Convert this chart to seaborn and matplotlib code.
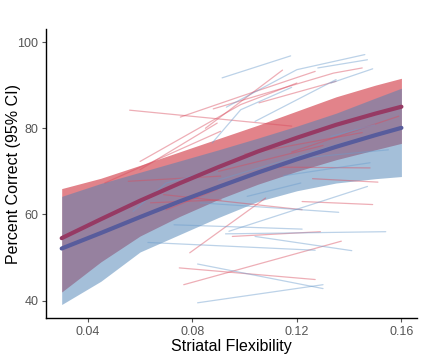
import matplotlib
matplotlib.use("Agg")
import matplotlib.pyplot as plt
import seaborn as sns
import pandas as pd

# ---- data ----
fit_x = [0.03, 0.045, 0.06, 0.075, 0.09, 0.105, 0.12, 0.135, 0.15, 0.16]
red_fit = [54.5, 58.9, 63.2, 67.2, 71.0, 74.6, 77.8, 80.8, 83.4, 85.0]
red_lo = [42.0, 49.0, 55.0, 59.5, 63.5, 67.0, 70.0, 72.7, 75.0, 76.5]
red_hi = [66.0, 68.4, 71.4, 74.5, 77.6, 80.7, 84.0, 87.3, 90.0, 91.6]
blue_fit = [52.1, 55.7, 59.4, 63.0, 66.4, 69.7, 72.8, 75.7, 78.4, 80.1]
blue_lo = [39.1, 44.5, 51.3, 55.3, 59.3, 63.0, 65.5, 67.3, 68.3, 68.8]
blue_hi = [64.2, 67.2, 69.8, 72.4, 75.0, 77.7, 80.5, 83.5, 87.0, 89.3]

red_lines_x = [
    [0.056, 0.118], [0.0754, 0.0985, 0.127], [0.085, 0.1145],
    [0.088, 0.134, 0.145], [0.1055, 0.135], [0.06, 0.0985, 0.12],
    [0.06, 0.0895], [0.0465, 0.0908], [0.0555, 0.0908], [0.064, 0.091],
    [0.070, 0.0895], [0.069, 0.122], [0.126, 0.151], [0.11, 0.148],
    [0.118, 0.159], [0.079, 0.108], [0.122, 0.149], [0.0953, 0.129],
    [0.0767, 0.137], [0.075, 0.127], [0.10, 0.145], [0.09, 0.13],
]
red_lines_y = [
    [84.2, 80.5], [82.6, 87.4, 93.2], [80.0, 93.5],
    [84.5, 92.8, 94.0], [85.9, 90.9], [72.3, 85.5, 90.5],
    [70.4, 81.2], [67.3, 79.3], [67.7, 68.9], [62.7, 63.4],
    [61.1, 65.8], [64.6, 61.1], [68.3, 67.5], [71.0, 70.8],
    [74.5, 82.8], [51.1, 63.8], [63.0, 62.3], [54.9, 56.0],
    [43.7, 53.8], [47.6, 44.9], [74.0, 79.0], [70.0, 76.0],
]
blue_lines_x = [
    [0.0914, 0.1176], [0.093, 0.120, 0.146], [0.128, 0.147],
    [0.133, 0.149], [0.104, 0.135], [0.0876, 0.0985, 0.118],
    [0.0573, 0.070, 0.09], [0.101, 0.1215], [0.115, 0.148],
    [0.094, 0.147], [0.083, 0.136], [0.073, 0.122], [0.0927, 0.154],
    [0.104, 0.141], [0.063, 0.127], [0.082, 0.130], [0.082, 0.130],
    [0.09, 0.14], [0.133, 0.1497], [0.12, 0.155],
]
blue_lines_y = [
    [91.7, 96.8], [84.9, 93.6, 97.1], [94.0, 95.9],
    [90.5, 93.8], [81.6, 91.3], [76.6, 84.3, 89.5],
    [60.7, 67.3, 70.5], [64.2, 67.3], [69.0, 72.0],
    [56.1, 66.5], [62.7, 60.5], [57.6, 56.6], [55.5, 56.0],
    [54.9, 51.6], [53.5, 51.7], [48.5, 42.8], [39.5, 43.7],
    [68.0, 77.0], [78.1, 80.8], [73.0, 75.0],
]

x_ticks = [0.04, 0.08, 0.12, 0.16]
x_ticklabels = ["0.04", "0.08", "0.12", "0.16"]
y_ticks = [40, 60, 80, 100]

# ---- build tidy frames ----
rows = []
for grp, xs_all, ys_all in (("red", red_lines_x, red_lines_y),
                            ("blue", blue_lines_x, blue_lines_y)):
    for i, (xs, ys) in enumerate(zip(xs_all, ys_all)):
        for xv, yv in zip(xs, ys):
            rows.append({"group": grp, "subj": f"{grp}{i}", "x": xv, "y": yv})
subj_df = pd.DataFrame(rows)

fit_df = pd.concat([
    pd.DataFrame({"group": "red", "x": fit_x, "y": red_fit}),
    pd.DataFrame({"group": "blue", "x": fit_x, "y": blue_fit}),
])

sns.set_style("ticks")
plt.rcParams["font.family"] = ["Liberation Sans", "DejaVu Sans"]

fig = plt.figure(figsize=(4.3, 3.6), dpi=100)
ax = fig.add_axes([0.107, 0.117, 0.863, 0.802])

# CI bands
ax.fill_between(fit_x, red_lo, red_hi, color="#d0303c", alpha=0.6, lw=0, zorder=1)
ax.fill_between(fit_x, blue_lo, blue_hi, color="#4b81b5", alpha=0.5, lw=0, zorder=2)

# individual subject lines
sns.lineplot(data=subj_df, x="x", y="y", hue="group", units="subj",
             estimator=None, palette={"red": "#d94c5e", "blue": "#6b9ccc"},
             alpha=0.45, linewidth=0.9, legend=False, ax=ax, zorder=3)

# group fits
sns.lineplot(data=fit_df, x="x", y="y", hue="group",
             palette={"red": "#963a64", "blue": "#585c9c"},
             linewidth=3.0, legend=False, ax=ax, zorder=4)

ax.set_xlim(0.024, 0.166)
ax.set_ylim(36.0, 103.0)
ax.set_xticks(x_ticks)
ax.set_xticklabels(x_ticklabels)
ax.set_yticks(y_ticks)
ax.tick_params(axis="both", labelsize=9, colors="#555555", length=3, width=0.8, pad=2.5)
for s in ("left", "bottom"):
    ax.spines[s].set_color("black")
    ax.spines[s].set_linewidth(1.0)
sns.despine(ax=ax)
ax.set_xlabel("Striatal Flexibility", fontsize=11.5, color="black")
ax.set_ylabel("Percent Correct (95% CI)", fontsize=11.5, color="black")
ax.yaxis.set_label_coords(-0.068, 0.5)
ax.xaxis.set_label_coords(0.5, -0.072)

fig.savefig("out.png", dpi=100)
